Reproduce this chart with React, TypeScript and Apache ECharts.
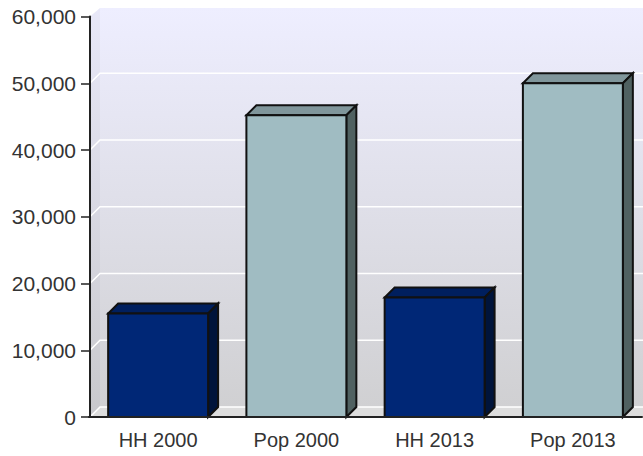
import React, { useEffect, useRef } from "react";
import * as echarts from "echarts";

const categories = ["HH 2000", "Pop 2000", "HH 2013", "Pop 2013"];
const values = [15500, 45200, 17900, 50000];
const yTicks = [0, 10000, 20000, 30000, 40000, 50000, 60000];
const fronts = ["#002776", "#A0BCC2", "#002776", "#A0BCC2"];
const tops = ["#001F5E", "#80969B", "#001F5E", "#80969B"];
const sides = ["#00143B", "#506161", "#00143B", "#506161"];
const DEPTH = 10;
const FONT = "Liberation Sans";
const TEXT = "#333333";

export default function App() {
  const ref = useRef<HTMLDivElement>(null);
  useEffect(() => {
    document.body.style.margin = "0";
    const chart = echarts.init(ref.current!, undefined, { renderer: "svg" });
    chart.setOption({
      animation: false,
      backgroundColor: "#FFFFFF",
      grid: { left: 89, right: 1, top: 16.5, bottom: 39 },
      xAxis: {
        type: "category",
        data: categories,
        z: 10,
        axisLine: { lineStyle: { color: "#222222", width: 2 } },
        axisTick: { alignWithLabel: true, length: 9, lineStyle: { color: "#222222", width: 1.5 } },
        axisLabel: { fontFamily: FONT, fontSize: 20, color: TEXT, margin: 13 },
        splitLine: { show: false },
      },
      yAxis: {
        type: "value",
        min: 0,
        max: 60000,
        interval: 10000,
        z: 10,
        offset: -1,
        axisLine: { show: true, lineStyle: { color: "#222222", width: 2 } },
        axisTick: { show: true, length: 9, lineStyle: { color: "#222222", width: 1.5 } },
        axisLabel: {
          fontFamily: FONT,
          fontSize: 21,
          color: TEXT,
          margin: 14,
          formatter: (v: number) => v.toLocaleString("en-US"),
        },
        splitLine: { show: false },
      },
      series: [
        {
          type: "custom",
          silent: true,
          z: 1,
          clip: false,
          data: yTicks.map((v) => [0, v]),
          encode: { x: 0, y: 1 },
          renderItem: (params: any, api: any) => {
            const cs = params.coordSys;
            const l = cs.x + 1;
            const r = cs.x + cs.width + 1;
            const y = api.coord([0, api.value(1)])[1];
            const children: any[] = [];
            if (params.dataIndex === 0) {
              const topY = cs.y - DEPTH + 1.5;
              const botY = cs.y + cs.height;
              children.push({
                type: "polygon",
                shape: { points: [[l, cs.y], [l + DEPTH, topY], [l + DEPTH, botY - DEPTH], [l, botY]] },
                style: {
                  fill: new echarts.graphic.LinearGradient(0, 0, 0, 1, [
                    { offset: 0, color: "#E8E8F8" },
                    { offset: 1, color: "#C8C8CC" },
                  ]),
                },
              });
              children.push({
                type: "rect",
                shape: { x: l + DEPTH, y: topY, width: r - l - DEPTH, height: botY - DEPTH - topY },
                style: {
                  fill: new echarts.graphic.LinearGradient(0, 0, 0, 1, [
                    { offset: 0, color: "#EEEEFF" },
                    { offset: 1, color: "#D0D0D2" },
                  ]),
                },
              });
              children.push({
                type: "polygon",
                shape: { points: [[l, botY], [l + DEPTH, botY - DEPTH], [r, botY - DEPTH], [r, botY]] },
                style: { fill: "#DDDDDD" },
              });
            }
            if (params.dataIndex < yTicks.length - 1) {
              children.push({
                type: "polyline",
                shape: { points: [[l, y], [l + DEPTH, y - DEPTH], [r, y - DEPTH]] },
                style: { stroke: "#FFFFFF", lineWidth: 1.5, fill: "none" },
              });
            }
            return { type: "group", children };
          },
        },
        {
          type: "custom",
          silent: true,
          z: 2,
          clip: false,
          data: values.map((v, i) => [i, v]),
          encode: { x: 0, y: 1 },
          renderItem: (params: any, api: any) => {
            const i = params.dataIndex;
            const [cx, yTop] = api.coord([api.value(0), api.value(1)]);
            const [, yBase] = api.coord([api.value(0), 0]);
            const w = api.size([1, 0])[0] * 0.723;
            const xL = cx - w / 2;
            const xR = cx + w / 2;
            const stroke = { stroke: "#111111", lineWidth: 2, lineJoin: "miter" };
            return {
              type: "group",
              children: [
                {
                  type: "polygon",
                  shape: { points: [[xL, yTop], [xL + DEPTH, yTop - DEPTH], [xR + DEPTH, yTop - DEPTH], [xR, yTop]] },
                  style: { fill: tops[i], ...stroke },
                },
                {
                  type: "polygon",
                  shape: { points: [[xR, yTop], [xR + DEPTH, yTop - DEPTH], [xR + DEPTH, yBase - DEPTH], [xR, yBase]] },
                  style: { fill: sides[i], ...stroke },
                },
                {
                  type: "rect",
                  shape: { x: xL, y: yTop, width: w, height: yBase - yTop },
                  style: { fill: fronts[i], ...stroke },
                },
              ],
            };
          },
        },
      ],
    });
    return () => chart.dispose();
  }, []);
  return <div ref={ref} style={{ width: 643, height: 456 }} />;
}
